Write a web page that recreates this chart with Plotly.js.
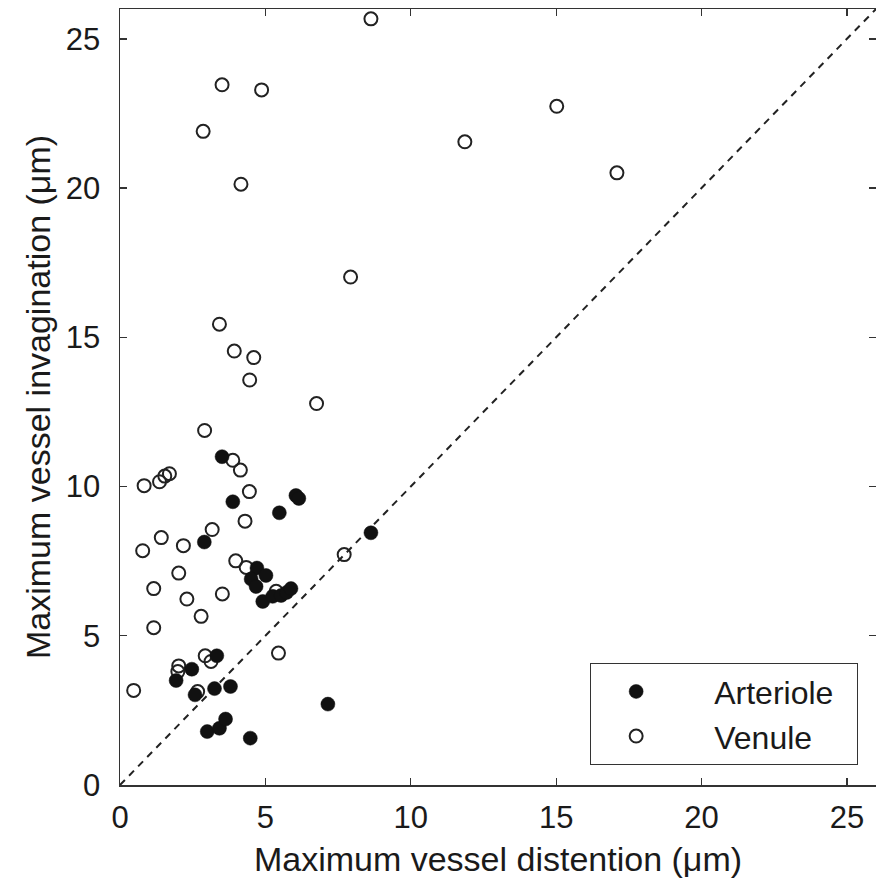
<!DOCTYPE html>
<html>
<head>
<meta charset="utf-8">
<script src="https://cdn.plot.ly/plotly-3.0.1.min.js"></script>
<style>html,body{margin:0;padding:0;background:#fff;}#chart{width:876px;height:884px;}</style>
</head>
<body>
<div id="chart"></div>
<script>
// Arteriole (filled)
var arterioleX = [3.51, 3.88, 5.48, 6.05, 6.15, 8.63, 2.90, 4.71, 5.02, 4.51, 4.68, 4.91, 5.25, 5.54, 5.73, 5.88, 3.33, 2.47, 1.93, 2.58, 3.25, 3.80, 3.00, 3.42, 3.63, 4.48, 7.15];
var arterioleY = [11.00, 9.49, 9.12, 9.70, 9.60, 8.45, 8.14, 7.27, 7.02, 6.90, 6.65, 6.15, 6.32, 6.35, 6.45, 6.58, 4.33, 3.88, 3.50, 3.02, 3.23, 3.30, 1.79, 1.90, 2.21, 1.57, 2.71];
// Venule (open)
var venuleX = [8.63, 3.51, 4.87, 2.86, 11.86, 15.02, 17.09, 4.16, 7.93, 3.42, 3.93, 4.60, 4.46, 6.76, 2.91, 3.88, 4.14, 0.83, 1.36, 1.54, 1.70, 4.45, 4.30, 3.17, 1.42, 0.78, 2.18, 3.98, 4.34, 2.02, 1.16, 2.30, 3.52, 2.79, 1.16, 5.45, 7.71, 2.93, 3.13, 2.02, 1.99, 0.47, 2.67, 5.37];
var venuleY = [25.67, 23.46, 23.29, 21.90, 21.55, 22.74, 20.51, 20.13, 17.02, 15.44, 14.54, 14.32, 13.57, 12.78, 11.88, 10.88, 10.55, 10.03, 10.16, 10.35, 10.43, 9.83, 8.84, 8.56, 8.29, 7.85, 8.02, 7.51, 7.29, 7.10, 6.58, 6.23, 6.40, 5.65, 5.27, 4.42, 7.72, 4.33, 4.14, 3.99, 3.80, 3.17, 3.13, 6.49];
// identity line
var lineX = [0, 26];
var lineY = [0, 26];
var ticks = [0, 5, 10, 15, 20, 25];
var seriesNames = ['Arteriole', 'Venule'];

var font = 'Liberation Sans, Arial, Helvetica, sans-serif';
var nb = '\u00A0';
var lead = nb + nb + nb + '\u2009';
var trail = nb + nb;
var traces = [
  {x: lineX, y: lineY, mode: 'lines', line: {color: '#222', width: 2, dash: '7px,6px'}, showlegend: false, hoverinfo: 'skip'},
  {x: venuleX, y: venuleY, mode: 'markers', name: lead + seriesNames[1] + trail,
   marker: {symbol: 'circle-open', size: 13, color: '#222', line: {color: '#222', width: 2}}},
  {x: arterioleX, y: arterioleY, mode: 'markers', name: lead + seriesNames[0] + trail,
   marker: {symbol: 'circle', size: 14, color: '#111', line: {color: '#111', width: 0.5}}}
];
var axisCommon = {
  range: [0, 26], tickvals: ticks, ticktext: ticks.map(String),
  showgrid: false, zeroline: false, showline: true, linecolor: '#333', linewidth: 1.5,
  mirror: 'ticks', ticks: 'inside', ticklen: 7, tickwidth: 1.3, tickcolor: '#333',
  tickfont: {family: font, size: 31, color: '#1a1a1a'}
};
var layout = {
  width: 876, height: 884,
  margin: {l: 120, r: 0, t: 9, b: 99},
  paper_bgcolor: '#fff', plot_bgcolor: '#fff',
  xaxis: Object.assign({}, axisCommon, {
    ticklabelstandoff: 4,
    title: {text: nb + nb + 'Maximum vessel distention (μm)', font: {family: font, size: 34, color: '#1a1a1a'}, standoff: 13}
  }),
  yaxis: Object.assign({}, axisCommon, {
    ticklabelstandoff: 12,
    title: {text: 'Maximum vessel invagination (μm)' + nb + nb, font: {family: font, size: 34, color: '#1a1a1a'}, standoff: 5}
  }),
  showlegend: true,
  legend: {
    x: 0.976, y: 0.026, xanchor: 'right', yanchor: 'bottom',
    bgcolor: '#fff', bordercolor: '#333', borderwidth: 1.3,
    font: {family: font, size: 32, color: '#1a1a1a'},
    traceorder: 'reversed', itemwidth: 80, tracegroupgap: 0
  }
};
Plotly.newPlot('chart', traces, layout, {displayModeBar: false, staticPlot: true});
</script>
</body>
</html>
